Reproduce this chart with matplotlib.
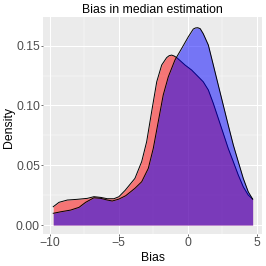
import matplotlib
matplotlib.use("Agg")
import matplotlib.pyplot as plt
from matplotlib.ticker import MultipleLocator

plt.rcParams['font.family'] = ['Liberation Sans', 'DejaVu Sans']

# Density curve of group 1 (red)
red_x = [-9.75, -9.33, -8.73, -8.0, -7.28, -6.8, -6.31, -5.83, -5.35, -4.99,
         -4.54, -3.83, -3.34, -2.98, -2.62, -2.25, -1.89, -1.53, -1.35, -1.17,
         -1.0, -0.80, -0.2, 0.28, 0.76, 1.12, 1.49, 1.85, 2.21, 2.57,
         2.93, 3.30, 3.66, 4.02, 4.38, 4.70]
red_y = [0.0153, 0.019, 0.0209, 0.0215, 0.0223, 0.0237, 0.0231, 0.022, 0.022, 0.0237,
         0.029, 0.039, 0.053, 0.0697, 0.0947, 0.1198, 0.1338, 0.140, 0.1416, 0.1421,
         0.1414, 0.140, 0.1338, 0.1296, 0.124, 0.1198, 0.1129, 0.1017, 0.0892, 0.0767,
         0.0641, 0.0529, 0.0418, 0.032, 0.0251, 0.0217]

# Density curve of group 2 (blue)
blue_x = [-9.75, -9.2, -8.49, -7.88, -7.4, -6.8, -6.31, -5.83, -5.47, -4.99,
          -4.5, -3.83, -3.34, -2.86, -2.5, -2.14, -1.78, -1.41, -0.93, -0.44,
          0.04, 0.40, 0.56, 0.72, 0.90, 1.12, 1.49, 1.85, 2.21, 2.57,
          2.93, 3.30, 3.66, 4.02, 4.38, 4.70]
blue_y = [0.0098, 0.0111, 0.0125, 0.0148, 0.019, 0.0228, 0.0223, 0.0209, 0.0201, 0.0217,
          0.0245, 0.0307, 0.0362, 0.0474, 0.0641, 0.0864, 0.1087, 0.124, 0.138, 0.1477,
          0.1574, 0.1639, 0.1648, 0.165, 0.1642, 0.160, 0.1505, 0.1338, 0.117, 0.1003,
          0.0836, 0.0669, 0.0529, 0.039, 0.0278, 0.0217]

x_ticks = [-10, -5, 0, 5]
x_tick_labels = ["\u221210", "\u22125", "0", "5"]
y_ticks = [0.00, 0.05, 0.10, 0.15]
y_tick_labels = ["0.00", "0.05", "0.10", "0.15"]

W = H = 266
fig = plt.figure(figsize=(W / 100, H / 100), dpi=100)
ax = fig.add_axes([43.3 / W, 1 - 234 / H, (262.3 - 43.3) / W, (234 - 17.3) / H])
ax.set_facecolor('#EBEBEB')
for s in ax.spines.values():
    s.set_visible(False)

ax.set_xlim(-10.47, 5.40)
ax.set_ylim(-0.0075, 0.1737)
ax.xaxis.set_minor_locator(MultipleLocator(2.5))
ax.yaxis.set_minor_locator(MultipleLocator(0.025))
ax.set_xticks(x_ticks)
ax.set_xticklabels(x_tick_labels)
ax.set_yticks(y_ticks)
ax.set_yticklabels(y_tick_labels)
ax.grid(which='major', color='white', linewidth=0.75)
ax.grid(which='minor', color='white', linewidth=0.35)
ax.set_axisbelow(True)
ax.tick_params(which='major', length=1.6, width=0.5, color='#333333',
               labelsize=8.8, labelcolor='#4D4D4D', pad=0.8)
ax.tick_params(which='minor', length=0)

ax.fill_between(red_x, 0, red_y, color='red', alpha=0.5, linewidth=0, zorder=2)
ax.plot(red_x, red_y, color='black', linewidth=0.7, zorder=2.1)
ax.fill_between(blue_x, 0, blue_y, color='blue', alpha=0.5, linewidth=0, zorder=3)
ax.plot(blue_x, blue_y, color='black', linewidth=0.7, zorder=3.1)

fig.text(152.8 / W, 1 - 12.7 / H, "Bias in median estimation", ha='center', va='baseline',
         fontsize=8.8, color='black')
fig.text(152.8 / W, 1 - 261 / H, "Bias", ha='center', va='baseline', fontsize=8.8, color='black')
fig.text(8.65 / W, 1 - 127 / H, "Density", ha='center', va='center', rotation=90,
         fontsize=8.8, color='black')

fig.savefig('out.png', dpi=100, facecolor='white')
